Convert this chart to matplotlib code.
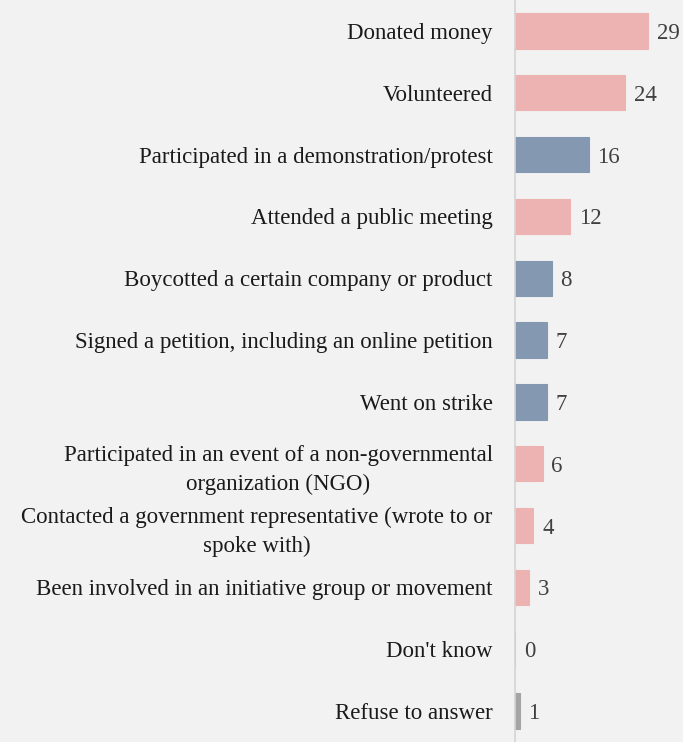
import matplotlib.pyplot as plt

# Forms of civic participation, share of respondents (%)
categories = [
    "Donated money",
    "Volunteered",
    "Participated in a demonstration/protest",
    "Attended a public meeting",
    "Boycotted a certain company or product",
    "Signed a petition, including an online petition",
    "Went on strike",
    "Participated in an event of a non-governmental\norganization (NGO)",
    "Contacted a government representative (wrote to or\nspoke with)",
    "Been involved in an initiative group or movement",
    "Don't know",
    "Refuse to answer",
]
values = [29, 24, 16, 12, 8, 7, 7, 6, 4, 3, 0, 1]
groups = ["pink", "pink", "blue", "pink", "blue", "blue", "blue",
          "pink", "pink", "pink", "pink", "gray"]

palette = {"pink": "#edb2b2", "blue": "#8598b2", "gray": "#a5a5a5"}
bg = "#f2f2f2"

plt.rcParams['font.family'] = ['Liberation Serif', 'DejaVu Serif']

fig = plt.figure(figsize=(6.83, 7.42), dpi=100, facecolor=bg)
ax = fig.add_axes([0.754, 0.0, 0.246, 1.0], facecolor=bg)

ypos = list(range(len(categories)))
colors = [palette[g] for g in groups]
ax.barh(ypos, values, height=0.57, color=colors, edgecolor=colors, linewidth=0.8)

for y, v in zip(ypos, values):
    ax.text(v + 1.9, y, str(v), va='center_baseline', ha='left',
            fontsize=16.5, color='#404040')

ax.set_xlim(0, 36.5)
ax.set_ylim(len(categories) - 0.5, -0.5)
ax.set_xticks([])
ax.set_yticks(ypos)
ax.set_yticklabels(categories, fontsize=16.5, color='#1a1a1a', linespacing=1.45)
for lbl in ax.get_yticklabels():
    lbl.set_multialignment('center')
ax.tick_params(axis='y', length=0, pad=16)

for side in ['top', 'right', 'bottom']:
    ax.spines[side].set_visible(False)
ax.spines['left'].set_color('#d4d4d4')
ax.spines['left'].set_linewidth(1.2)

fig.savefig('out.png', dpi=100, facecolor=bg)
